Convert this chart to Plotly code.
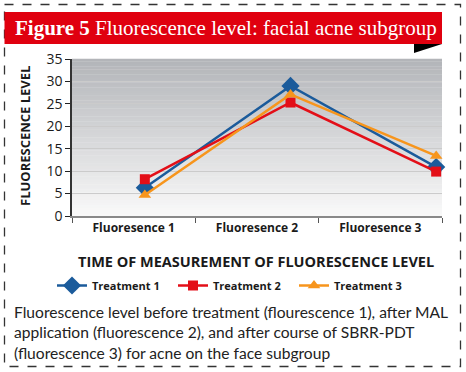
import plotly.graph_objects as go

categories = ["Fluoresence 1", "Fluoresence 2", "Fluoresence 3"]
treatment1 = [6.3, 29.0, 10.9]
treatment2 = [8.2, 25.3, 9.9]
treatment3 = [4.7, 27.1, 13.4]
y_ticks = [0, 5, 10, 15, 20, 25, 30, 35]

W, H = 466, 372
L, R, T, B = 72, 442, 59, 216


def px(x):
    return (x - L) / (R - L)


def py(y):
    return (B - y) / (B - T)


fig = go.Figure()

series = [
    ("Treatment 1", treatment1, "#1b5b9b", "diamond", 14),
    ("Treatment 2", treatment2, "#e30f18", "square", 10),
    ("Treatment 3", treatment3, "#f7951c", "triangle-up", 11),
]
for name, vals, col, sym, sz in series:
    fig.add_trace(go.Scatter(
        x=categories, y=vals, name=name, mode="lines+markers",
        line=dict(color=col, width=2.5),
        marker=dict(symbol=sym, size=sz, color=col),
        xaxis="x", yaxis="y", cliponaxis=False,
    ))

# invisible trace to carry category ticks on the label axis
fig.add_trace(go.Scatter(x=categories, y=[None] * 3, xaxis="x2", yaxis="y",
                         showlegend=False, hoverinfo="skip"))

shapes = []
# gradient background
n = 60
top = (0xb3, 0xb5, 0xb9)
bot = (0xf9, 0xf9, 0xf9)
for i in range(n):
    t = i / (n - 1)
    c = tuple(int(round(bot[k] + (top[k] - bot[k]) * t)) for k in range(3))
    shapes.append(dict(type="rect", xref="paper", yref="paper",
                       x0=0, x1=1, y0=i / n, y1=(i + 1) / n + 0.002,
                       fillcolor="rgb(%d,%d,%d)" % c, line=dict(width=0),
                       layer="below"))
# dashed border
shapes.append(dict(type="rect", xref="paper", yref="paper",
                   x0=px(4.5), x1=px(460.5), y0=py(4.5), y1=py(366.5),
                   line=dict(color="#333333", width=1.3, dash="dash")))
# red banner
shapes.append(dict(type="rect", xref="paper", yref="paper",
                   x0=px(4.5), x1=px(442), y0=py(12), y1=py(44),
                   fillcolor="#e0000f", line=dict(width=0)))
# black wedge
shapes.append(dict(type="path", xref="paper", yref="paper",
                   path="M %f %f L %f %f L %f %f Z" % (px(414), py(44), px(442), py(44), px(414), py(53)),
                   fillcolor="#000000", line=dict(width=0)))

annotations = [
    dict(xref="paper", yref="paper", x=px(13), y=py(28.5), xanchor="left", yanchor="middle",
         text="<b>Figure 5</b> Fluorescence level: facial acne subgroup", showarrow=False,
         font=dict(family="Liberation Serif", size=21, color="white")),
    dict(xref="paper", yref="paper", x=px(25), y=py(136), xanchor="center", yanchor="middle",
         textangle=-90, text="<b>FLUORESCENCE LEVEL</b>", showarrow=False,
         font=dict(family="Open Sans", size=13, color="#1a1a1a")),
    dict(xref="paper", yref="paper", x=px(256), y=py(261), xanchor="center", yanchor="middle",
         text="<b>TIME OF MEASUREMENT OF FLUORESCENCE LEVEL</b>", showarrow=False,
         font=dict(family="Open Sans", size=14.5, color="#1a1a1a")),
    dict(xref="paper", yref="paper", x=px(12), y=py(301), xanchor="left", yanchor="top",
         align="left", showarrow=False,
         text="Fluorescence level before treatment (flourescence 1), after MAL<br>"
              "application (fluorescence 2), and after course of SBRR-PDT<br>"
              "(fluorescence 3) for acne on the face subgroup",
         font=dict(family="Lato", size=15.6, color="#222222")),
]

fig.update_layout(
    width=W, height=H,
    margin=dict(l=L, r=W - R, t=T, b=H - B, pad=0, autoexpand=False),
    paper_bgcolor="white", plot_bgcolor="white",
    shapes=shapes, annotations=annotations,
    xaxis=dict(type="category", range=[-0.5, 2.04], visible=False),
    xaxis2=dict(type="category", overlaying="x", anchor="y", side="bottom",
                range=[-0.5, 2.5], tickson="boundaries", ticks="outside", ticklen=5,
                tickcolor="#555555", showline=True, linecolor="#8a8a8a", linewidth=1.5,
                showgrid=False,
                tickfont=dict(family="Open Sans", size=12, color="#1a1a1a", weight="bold")),
    yaxis=dict(range=[0, 35], tickvals=y_ticks, ticks="outside", ticklen=5,
               tickcolor="#222222", showline=True, linecolor="#333333", linewidth=1.5,
               showgrid=True, gridcolor="#cbcbcb", gridwidth=1.2,
               tickfont=dict(family="Open Sans", size=14, color="#1a1a1a")),
    legend=dict(orientation="h", x=px(52), y=py(271), xanchor="left", yanchor="top",
                font=dict(family="Open Sans", size=11, color="#1a1a1a", weight="bold"),
                entrywidth=76, entrywidthmode="pixels", bgcolor="rgba(0,0,0,0)"),
    showlegend=True,
)

fig.write_html("out.html", config={"displayModeBar": False},
               post_script="document.body.style.margin='0';")
